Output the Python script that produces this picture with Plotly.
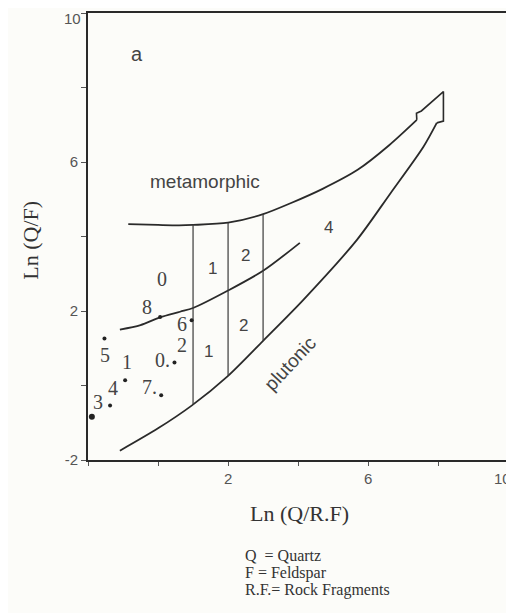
import plotly.graph_objects as go

# ---- data ----
upper_x = [-0.85, 0.0, 0.6, 1.0, 2.0, 3.0, 3.8, 4.7, 5.7, 6.6, 7.39]
upper_y = [4.33, 4.31, 4.3, 4.31, 4.37, 4.6, 4.9, 5.28, 5.79, 6.45, 7.13]

mid_x = [-1.09, -0.5, 0.06, 0.63, 1.0, 2.0, 3.0, 4.05]
mid_y = [1.5, 1.62, 1.83, 1.98, 2.08, 2.55, 3.08, 3.83]

low_x = [-1.09, 0.0, 0.96, 2.0, 3.0, 4.15, 5.68, 6.63, 7.58, 7.96]
low_y = [-1.75, -1.15, -0.54, 0.26, 1.2, 2.3, 3.91, 5.15, 6.41, 7.05]

head_x = [7.39, 7.38, 7.52, 8.15, 8.15, 7.96]
head_y = [7.13, 7.31, 7.37, 7.89, 7.1, 7.05]

vert_x = [1.0, 2.0, 3.0]
vert_bottom = [-0.52, 0.26, 1.2]
vert_top = [4.33, 4.37, 4.6]

dot_x = [0.06, 0.96, -1.53, 0.47, -0.94, 0.09, -1.37]
dot_y = [1.84, 1.75, 1.26, 0.62, 0.14, -0.26, -0.54]
big_dot_x = [-1.89]
big_dot_y = [-0.84]

sample_lbl = ["0", "8", "6", "5", "1", "0.", "2", "4", "7.", "3"]
sample_lx = [0.11, -0.32, 0.68, -1.51, -0.89, 0.12, 0.68, -1.28, -0.23, -1.71]
sample_ly = [2.87, 2.11, 1.66, 0.82, 0.64, 0.68, 1.08, -0.08, -0.03, -0.44]

zone_lbl = ["1", "2", "1", "2", "4"]
zone_x = [1.55, 2.49, 1.44, 2.44, 4.87]
zone_y = [3.15, 3.5, 0.91, 1.62, 4.25]

x_ticks = [-2, 0, 2, 4, 6, 8, 10]
x_ticktext = ["", "", "2", "", "6", "", ""]
y_ticks = [-2, 0, 2, 4, 6, 8, 10]
y_ticktext = ["-2", "", "2", "", "6", "", ""]
x_max_label = "10"
y_max_label = "10"

legend_lines = ["Q  = Quartz", "F = Feldspar", "R.F.= Rock Fragments"]

# ---- figure ----
LINE = "#2a2a2a"
TICKFONT = dict(family="Liberation Sans", size=15, color="#555")
fig = go.Figure()

for xs, ys in [(upper_x, upper_y), (mid_x, mid_y), (low_x, low_y)]:
    fig.add_trace(go.Scatter(x=xs, y=ys, mode="lines",
                             line=dict(color=LINE, width=1.8, shape="spline", smoothing=0.8),
                             hoverinfo="skip", showlegend=False))

fig.add_trace(go.Scatter(x=head_x, y=head_y, mode="lines",
                         line=dict(color=LINE, width=1.6),
                         hoverinfo="skip", showlegend=False))

vx, vy = [], []
for x0, b, t in zip(vert_x, vert_bottom, vert_top):
    vx += [x0, x0, None]
    vy += [b, t, None]
fig.add_trace(go.Scatter(x=vx, y=vy, mode="lines",
                         line=dict(color="#3a3a3a", width=1.2),
                         hoverinfo="skip", showlegend=False))

fig.add_trace(go.Scatter(x=dot_x, y=dot_y, mode="markers",
                         marker=dict(color="#222", size=4),
                         showlegend=False))
fig.add_trace(go.Scatter(x=big_dot_x, y=big_dot_y, mode="markers",
                         marker=dict(color="#222", size=6),
                         showlegend=False))

for t, x0, y0 in zip(sample_lbl, sample_lx, sample_ly):
    fig.add_annotation(x=x0, y=y0, text=t, showarrow=False,
                       font=dict(family="Liberation Serif", size=20, color="#444"))

for t, x0, y0 in zip(zone_lbl, zone_x, zone_y):
    fig.add_annotation(x=x0, y=y0, text=t, showarrow=False,
                       font=dict(family="Liberation Sans", size=17, color="#444"))

fig.add_annotation(x=-0.61, y=8.9, text="a", showarrow=False,
                   font=dict(family="Liberation Sans", size=20, color="#444"))
fig.add_annotation(x=1.34, y=5.49, text="metamorphic", showarrow=False,
                   font=dict(family="Liberation Sans", size=19, color="#444"))
fig.add_annotation(x=3.77, y=0.6, text="plutonic", showarrow=False, textangle=-47,
                   font=dict(family="Liberation Sans", size=19, color="#444"))

# end-of-axis tick labels, kept inside the page
fig.add_annotation(x=x_ticks[-1], y=0, yref="paper", text=x_max_label, showarrow=False,
                   xanchor="right", xshift=5, yanchor="top", yshift=-8, font=TICKFONT)
fig.add_annotation(x=0, xref="paper", y=y_ticks[-1], text=y_max_label, showarrow=False,
                   xanchor="right", xshift=-5, yanchor="top", yshift=5, font=TICKFONT)

# axis titles
fig.add_annotation(xref="paper", yref="y", x=0, xshift=-72, y=3.9, text="Ln (Q/F)",
                   showarrow=False, textangle=-90,
                   font=dict(family="Liberation Serif", size=22, color="#333"))
fig.add_annotation(xref="paper", yref="paper", x=0.5, y=0, yanchor="middle", yshift=-53,
                   text="Ln (Q/R.F)", showarrow=False,
                   font=dict(family="Liberation Serif", size=22, color="#333"))

for i, t in enumerate(legend_lines):
    fig.add_annotation(xref="paper", yref="paper", x=(243 - 88) / 423, xanchor="left",
                       y=0, yanchor="middle", yshift=-(95 + 17.5 * i),
                       text=t, showarrow=False,
                       font=dict(family="Liberation Serif", size=16, color="#333"))

# the page body adds an 8 px margin, so the figure is shifted to compensate
fig.update_layout(
    width=506, height=605,
    margin=dict(l=80, r=3, t=5, b=153),
    paper_bgcolor="#fcfcf9", plot_bgcolor="#fcfcf9",
    showlegend=False,
    xaxis=dict(range=[-2, 10.08], tickvals=x_ticks, ticktext=x_ticktext,
               ticks="outside", ticklen=4, tickcolor="#555", automargin=False,
               showline=True, linecolor=LINE, linewidth=2, mirror=True,
               showgrid=False, zeroline=False, tickfont=TICKFONT),
    yaxis=dict(range=[-2, 10], tickvals=y_ticks, ticktext=y_ticktext,
               ticks="outside", ticklen=5, tickcolor="#555", automargin=False,
               showline=True, linecolor=LINE, linewidth=2, mirror=True,
               showgrid=False, zeroline=False, tickfont=TICKFONT),
)

fig.write_html("out.html")
